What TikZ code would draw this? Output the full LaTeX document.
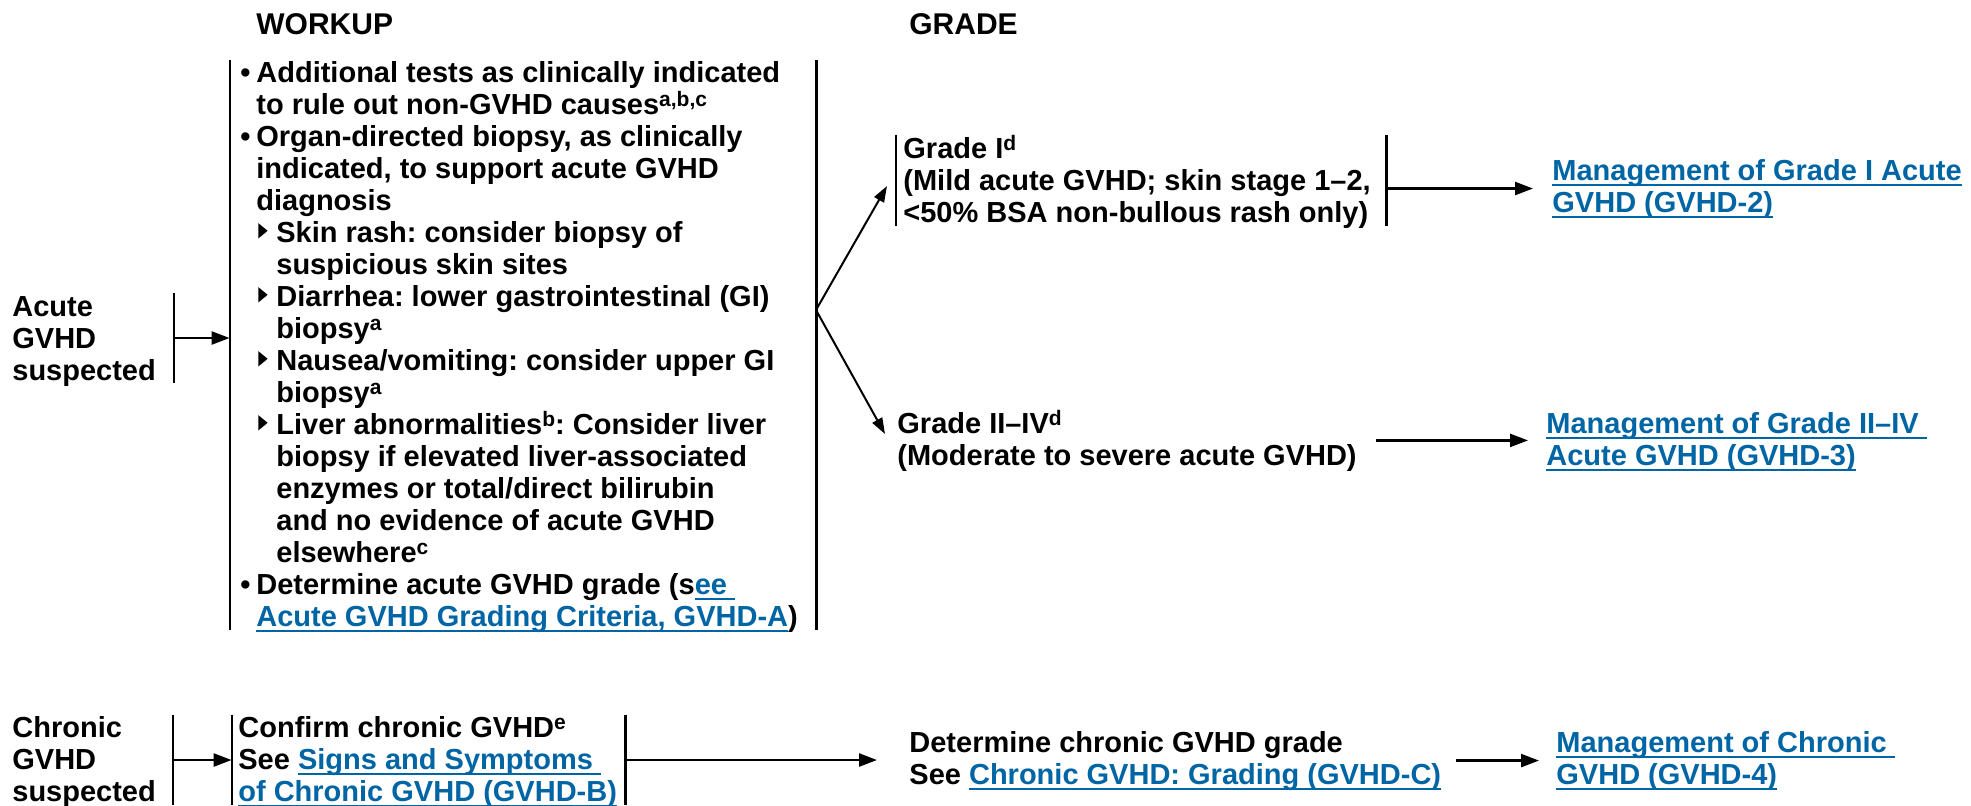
\documentclass[tikz,border=0pt]{standalone}
\usepackage{fontspec}
\setmainfont{Liberation Sans}
\usetikzlibrary{arrows.meta,fit}
\definecolor{linkblue}{RGB}{0,101,164}
\frenchspacing
\newcommand\ml[1]{\vtop{\lineskiplimit=-20pt\lineskip=0pt\halign{##\hfil\cr#1\crcr}}}
\newcommand\sps[1]{\raisebox{4pt}{\fontsize{10.5}{10.5}\selectfont #1}}
\newcommand\lk[1]{{\color{linkblue}\setbox0\hbox{#1}\rlap{\rule[-2.8pt]{\wd0}{0.9pt}}\box0}}
\newcommand\bul{\makebox[8pt][l]{•}}
\newcommand\ia{\hspace*{8pt}}
\newcommand\tri{\begin{pgfpicture}\pgftransformreset
  \pgfpathmoveto{\pgfqpoint{0pt}{1.8pt}}\pgfpathlineto{\pgfqpoint{0pt}{9.4pt}}%
  \pgfpathlineto{\pgfqpoint{4.6pt}{5.6pt}}\pgfpathclose\pgfusepath{fill}%
  \pgfsetbaseline{0pt}\end{pgfpicture}}
\newcommand\subb{\hspace*{9pt}\makebox[9pt][l]{\tri}}
\newcommand\ib{\hspace*{18pt}}
\begin{document}
\frenchspacing
\begin{tikzpicture}[x=0.5pt,y=-0.5pt,
  txt/.style={inner sep=0pt, anchor=base west, font=\bfseries\fontsize{14.5}{16}\selectfont\frenchspacing},
  hdr/.style={txt, font=\bfseries\fontsize{15}{16}\selectfont},
  brk/.style={line width=1.1pt},
  arr/.style={line width=1.2pt, -{Triangle[length=9pt,width=6.5pt]}},
  farr/.style={line width=1pt, -{Triangle[length=8pt,width=5.5pt]}},
  frame/.style={inner sep=0pt}]
\useasboundingbox (0,0) rectangle (1971,805);
\fill[white] (0,0) rectangle (1971,805);

% headers
\node[hdr] (hw) at (256,34) {WORKUP};
\node[hdr] (hg) at (909,34) {GRADE};

% acute row
\node[txt] (acute) at (12,316) {\ml{Acute\cr GVHD\cr suspected}};
\node[frame, fit={(174,293)(174,383)}] (abr) {};
\draw[brk] (abr.north) -- (abr.south);

\node[frame, fit={(230,60)(816,630)}] (wbox) {};
\draw[brk] (wbox.north west) -- (wbox.south west) (wbox.north east) -- (wbox.south east);
\node[txt] (work) at (240,82) {\ml{%
\bul Additional tests as clinically indicated\cr
\ia to rule out non-GVHD causes\sps{a,b,c}\cr
\bul Organ-directed biopsy, as clinically\cr
\ia indicated, to support acute GVHD\cr
\ia diagnosis\cr
\subb Skin rash: consider biopsy of\cr
\ib suspicious skin sites\cr
\subb Diarrhea: lower gastrointestinal (GI)\cr
\ib biopsy\sps{a}\cr
\subb Nausea/vomiting: consider upper GI\cr
\ib biopsy\sps{a}\cr
\subb Liver abnormalities\sps{b}: Consider liver\cr
\ib biopsy if elevated liver-associated\cr
\ib enzymes or total/direct bilirubin\cr
\ib and no evidence of acute GVHD\cr
\ib elsewhere\sps{c}\cr
\bul Determine acute GVHD grade (s\lk{ee }\cr
\ia\lk{Acute GVHD Grading Criteria, GVHD-A})}};

\draw[arr] (abr.center) -- (abr.center -| wbox.west);

% grade nodes
\node[frame, fit={(896,135)(1386,226)}] (g1box) {};
\draw[brk] (g1box.north west) -- (g1box.south west) (g1box.north east) -- (g1box.south east);
\node[txt] (g1) at (903,158) {\ml{Grade I\sps{d}\cr (Mild acute GVHD; skin stage 1–2,\cr <50\% BSA non-bullous rash only)}};
\node[txt] (g2) at (897,433) {\ml{Grade II–IV\sps{d}\cr (Moderate to severe acute GVHD)}};

\coordinate (fork) at (816,310);
\coordinate (g1in) at (887,186);
\coordinate (g2in) at (885,434);
\draw[farr] (fork) -- (g1in);
\draw[farr] (fork) -- (g2in);

\node[txt] (m1) at (1552,180) {\ml{\lk{Management of Grade I Acute}\cr \lk{GVHD (GVHD-2)}}};
\node[txt] (m2) at (1546,433) {\ml{\lk{Management of Grade II–IV }\cr \lk{Acute GVHD (GVHD-3)}}};
\draw[arr, shorten >=9.5pt] (g1box.east |- m1.west) -- (m1.west);
\draw[arr, shorten <=9.5pt, shorten >=9pt] (g2.east) -- (g2.east -| m2.west);

% chronic row
\node[txt] (chronic) at (12,737) {\ml{Chronic\cr GVHD\cr suspected}};
\node[frame, fit={(173,715)(173,805)}] (cbr) {};
\draw[brk] (cbr.north) -- (cbr.south);
\node[frame, fit={(232,715)(625,805)}] (cbox) {};
\draw[brk] (cbox.north west) -- (cbox.south west) (cbox.north east) -- (cbox.south east);
\node[txt] (conf) at (238,737) {\ml{Confirm chronic GVHD\sps{e}\cr See \lk{Signs and Symptoms }\cr \lk{of Chronic GVHD (GVHD-B)}}};
\draw[arr] (cbr.center) -- (cbr.center -| cbox.west);

\node[txt] (det) at (909,752) {\ml{Determine chronic GVHD grade\cr See \lk{Chronic GVHD: Grading (GVHD-C)}}};
\node[txt] (m3) at (1556,752) {\ml{\lk{Management of Chronic }\cr \lk{GVHD (GVHD-4)}}};
\draw[arr, shorten >=16pt] (cbox.east) -- (cbox.east -| det.west);
\draw[arr, shorten <=7pt, shorten >=8.5pt] (det.east) -- (det.east -| m3.west);
\end{tikzpicture}
\end{document}
